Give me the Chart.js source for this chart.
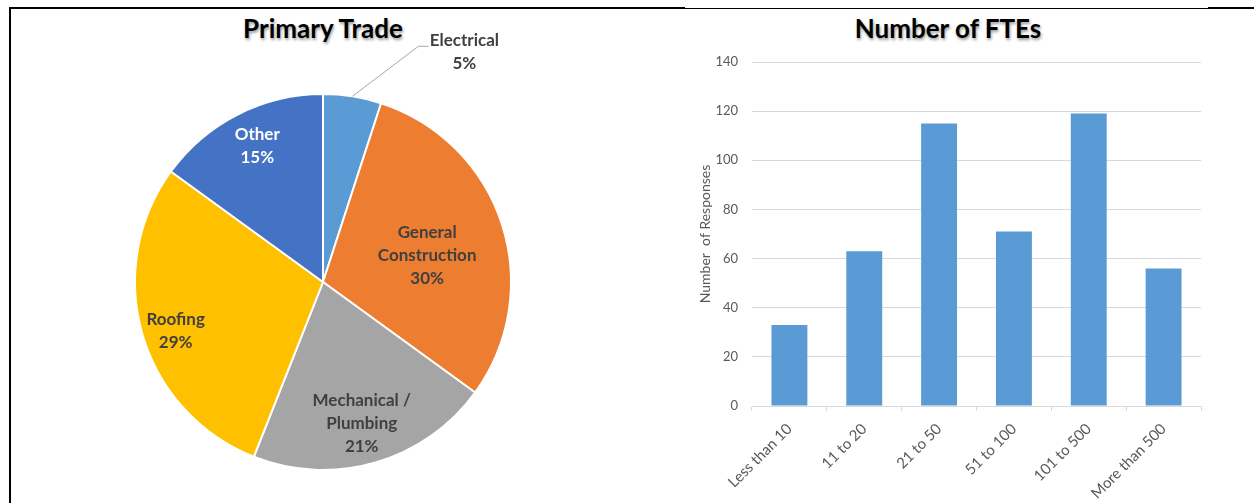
<!DOCTYPE html>
<html>
<head>
<meta charset="utf-8">
<script src="https://cdn.jsdelivr.net/npm/chart.js@4"></script>
<style>
  body { margin: 0; width: 1254px; height: 503px; background: #fff; position: relative; overflow: hidden; }
  .line { position: absolute; background: #000; }
  .title { position: absolute; font-family: Lato, sans-serif; font-weight: bold; font-size: 26px; line-height: 30px; color: #000;
           text-shadow: 1px 2px 3px rgba(0,0,0,0.4); transform: translateX(-50%); white-space: nowrap; }
  #pieWrap { position: absolute; left: 10px; top: 10px; width: 676px; height: 493px; }
  #barWrap { position: absolute; left: 686px; top: 10px; width: 568px; height: 493px; }
</style>
</head>
<body>
<div class="line" style="left:9px; top:7px; width:676px; height:2px;"></div>
<div class="line" style="left:685px; top:8px; width:523px; height:1px;"></div>
<div class="line" style="left:1208px; top:7px; width:46px; height:2px;"></div>
<div class="line" style="left:9px; top:7px; width:2px; height:496px;"></div>

<div class="title" style="left:323px; top:13px;">Primary Trade</div>
<div class="title" style="left:948px; top:13px;">Number of FTEs</div>

<div id="pieWrap"><canvas id="tradeChart"></canvas></div>
<div id="barWrap"><canvas id="fteChart"></canvas></div>

<script>
// Primary Trade (pie)
const tradeLabels = [['Electrical'], ['General', 'Construction'], ['Mechanical /', 'Plumbing'], ['Roofing'], ['Other']];
const tradeShares = [5, 30, 21, 29, 15];
const tradeColors = ['#5B9BD5', '#ED7D31', '#A5A5A5', '#FFC000', '#4472C4'];

// Number of FTEs (bar)
const fteLabels = ['Less than 10', '11 to 20', '21 to 50', '51 to 100', '101 to 500', 'More than 500'];
const fteCounts = [33, 63, 115, 71, 119, 56];
const fteTicks = [0, 20, 40, 60, 80, 100, 120, 140];

// label nudges (px) from the 0.7 radius point, Electrical (null) goes outside with a leader line
const labelNudge = [null, [-21, 14], [2, 15], [-21, 12], [-6, -19]];
const labelColor = ['#404040', '#404040', '#404040', '#404040', '#ffffff'];

const pieLabels = {
    id: 'pieLabels',
    afterDatasetsDraw(chart) {
        const ctx = chart.ctx;
        const meta = chart.getDatasetMeta(0);
        ctx.save();
        ctx.font = 'bold 17px Lato, sans-serif';
        ctx.textAlign = 'center';
        ctx.textBaseline = 'middle';
        meta.data.forEach((arc, i) => {
            const mid = (arc.startAngle + arc.endAngle) / 2;
            const lines = tradeLabels[i].concat([tradeShares[i] + '%']);
            let x, y;
            if (labelNudge[i] === null) {
                const ex = arc.x + Math.cos(mid) * arc.outerRadius;
                const ey = arc.y + Math.sin(mid) * arc.outerRadius;
                ctx.strokeStyle = '#a6a6a6';
                ctx.lineWidth = 1;
                ctx.beginPath();
                ctx.moveTo(ex, ey);
                ctx.lineTo(ex + 66, ey - 50);
                ctx.lineTo(ex + 76, ey - 50);
                ctx.stroke();
                x = ex + 112;
                y = ey - 44;
            } else {
                x = arc.x + Math.cos(mid) * arc.outerRadius * 0.7 + labelNudge[i][0];
                y = arc.y + Math.sin(mid) * arc.outerRadius * 0.7 + labelNudge[i][1];
            }
            ctx.fillStyle = labelColor[i];
            const lh = 23;
            const top = y - (lines.length - 1) * lh / 2;
            lines.forEach((t, k) => ctx.fillText(t, x, top + k * lh));
        });
        ctx.restore();
    }
};

new Chart(document.getElementById('tradeChart'), {
    type: 'pie',
    data: {
        labels: tradeLabels,
        datasets: [{
            data: tradeShares,
            backgroundColor: tradeColors,
            borderColor: '#ffffff',
            borderWidth: 2
        }]
    },
    options: {
        responsive: true,
        maintainAspectRatio: false,
        animation: false,
        layout: { padding: { top: 83, bottom: 32, left: 124, right: 174 } },
        plugins: { legend: { display: false }, tooltip: { enabled: false } }
    },
    plugins: [pieLabels]
});

new Chart(document.getElementById('fteChart'), {
    type: 'bar',
    data: {
        labels: fteLabels,
        datasets: [{
            label: 'Number of Responses',
            data: fteCounts,
            backgroundColor: '#5B9BD5',
            barPercentage: 0.48,
            categoryPercentage: 1
        }]
    },
    options: {
        responsive: true,
        maintainAspectRatio: false,
        animation: false,
        layout: { padding: { top: 52, right: 53, left: 0, bottom: 0 } },
        plugins: { legend: { display: false }, tooltip: { enabled: false } },
        scales: {
            x: {
                grid: { offset: true, drawOnChartArea: false, tickLength: 5, color: '#d9d9d9' },
                border: { display: true, color: '#d9d9d9' },
                ticks: {
                    color: '#595959', font: { family: 'Lato', size: 15 },
                    minRotation: 45, maxRotation: 45, padding: 9
                },
                afterFit(scale) { scale.height = 97; }
            },
            y: {
                min: 0, max: 140,
                afterBuildTicks(scale) { scale.ticks = fteTicks.map(v => ({ value: v })); },
                grid: { drawTicks: false, color: '#d9d9d9' },
                border: { display: false },
                ticks: { color: '#595959', font: { family: 'Lato', size: 13 }, padding: 14 },
                title: {
                    display: true, text: 'Number  of Responses',
                    color: '#595959', font: { family: 'Lato', size: 14 }, padding: { top: 11 }
                },
                afterFit(scale) { scale.width = 66; }
            }
        }
    }
});
</script>
</body>
</html>
